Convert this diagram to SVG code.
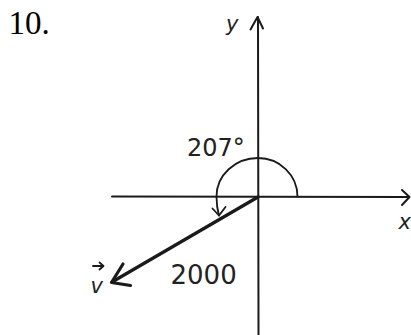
<svg xmlns="http://www.w3.org/2000/svg" width="411" height="335" viewBox="0 0 411 335">
<style>
.ax{stroke:#1a1a1a;stroke-width:2;fill:none;stroke-linecap:round;stroke-linejoin:round}
.vec{stroke:#1a1a1a;stroke-width:3.2;fill:none;stroke-linecap:round;stroke-linejoin:round}
.arc{stroke:#1a1a1a;stroke-width:1.8;fill:none;stroke-linecap:round;stroke-linejoin:round}
.lbl{font-family:"DejaVu Sans","Liberation Sans",Arial,sans-serif;fill:#222}
.num{font-family:"Liberation Serif","Times New Roman",serif;fill:#000}
</style>
<rect width="411" height="335" fill="#fff"/>
<text class="num" x="8.5" y="34" font-size="33">10.</text>
<g id="connectors">
<g id="y-axis">
<line class="ax" x1="258" y1="17" x2="258.5" y2="335"/>
<polyline class="ax" points="250.5,29.5 257.5,17 263,28.5"/>
</g>
<g id="x-axis">
<line class="ax" x1="112" y1="196.5" x2="409" y2="197"/>
<polyline class="ax" points="402,190 409.5,197 402,205"/>
</g>
<g id="angle-arc">
<path class="arc" d="M297.5,196.5 A39.5,38.5 0 0 0 258,158 A41.5,38.5 0 0 0 216.5,196.5 Q216.5,207 219,215.5"/>
<polyline class="arc" points="212.5,208.5 219,215.5 225.5,207"/>
</g>
<g id="vector-v">
<line class="vec" x1="258" y1="197" x2="112" y2="282"/>
<polyline class="vec" points="123,264 111.5,282.5 130.5,285.5"/>
</g>
</g>
<g id="label-y"><text class="lbl" x="226" y="31" font-size="21" font-style="italic">y</text></g>
<g id="label-x"><text class="lbl" x="398.5" y="229" font-size="21" font-style="italic">x</text></g>
<g id="label-angle"><text class="lbl" x="187" y="156" font-size="24">207°</text></g>
<g id="label-magnitude"><text class="lbl" x="170.5" y="284" font-size="26">2000</text></g>
<g id="label-v">
<text class="lbl" x="90.5" y="293" font-size="21" font-style="italic">v</text>
<line class="arc" x1="93" y1="266" x2="103" y2="266" stroke-width="1.6"/>
<polyline class="arc" points="99.5,262.5 103.5,266 99.5,269.5" stroke-width="1.6"/>
</g>
</svg>
